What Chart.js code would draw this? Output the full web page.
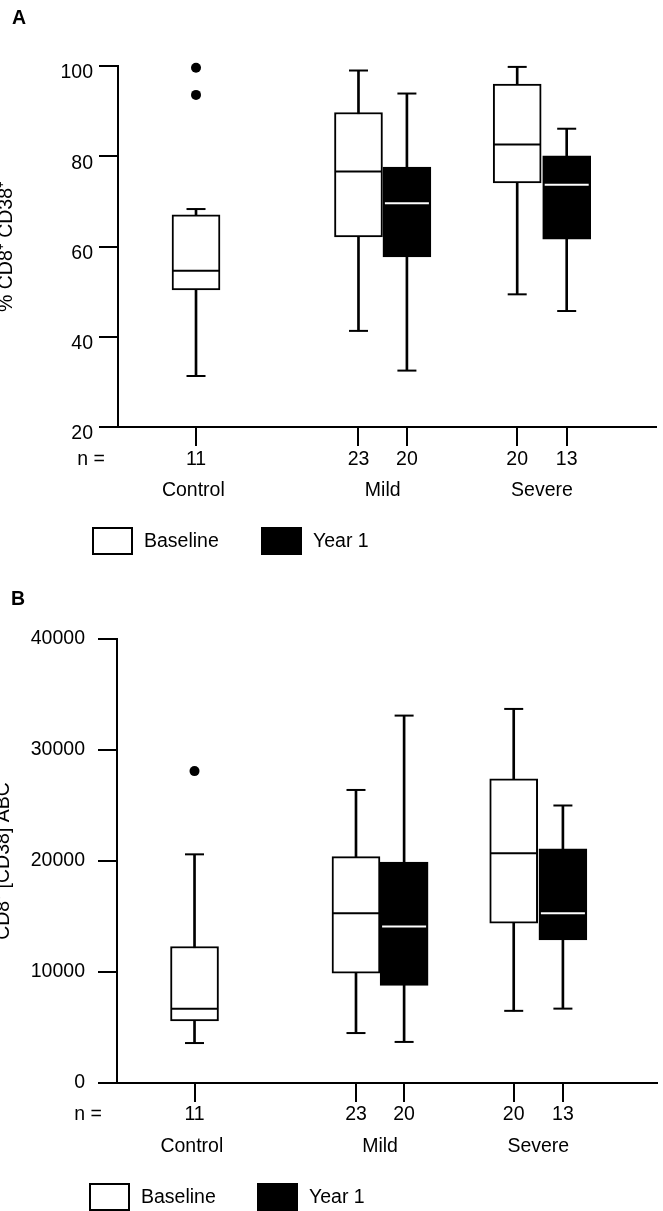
<!DOCTYPE html>
<html lang="en">
<head>
  <meta charset="UTF-8" />
  <title>CD8+ CD38+ box plots</title>
  <script src="https://cdn.jsdelivr.net/npm/chart.js"></script>
  <style>
    body { margin: 0; background: #fff; width: 663px; height: 1211px; position: relative; overflow: hidden;
           font-family: 'Liberation Sans', Arial, Helvetica, sans-serif; }
    canvas { position: absolute; left: 0; }
    .panel-label { position: absolute; z-index: 2; font-weight: bold; font-size: 19.5px; line-height: 1; }
  </style>
</head>
<body>
  <div class="panel-label" style="left:12px; top:7.5px;">A</div>
  <canvas id="chartA" width="663" height="575" style="top:0"></canvas>
  <div class="panel-label" style="left:11px; top:588.5px;">B</div>
  <canvas id="chartB" width="663" height="633" style="top:578px"></canvas>

  <script>
    // groups and series
    const groups = ['Control', 'Mild', 'Severe'];
    const seriesNames = ['Baseline', 'Year 1'];
    // which series each box belongs to (Control, Mild x2, Severe x2)
    const boxSeries = [0, 0, 1, 0, 1];

    // panel A: % CD8+ CD38+
    const aN   = [11, 23, 20, 20, 13];
    const aMin = [31.3, 41.3, 32.5, 49.4, 45.7];
    const aQ1  = [50.4, 62.1, 57.7, 74.1, 61.6];
    const aMed = [54.6, 76.6, 69.6, 82.6, 73.7];
    const aQ3  = [67.0, 89.7, 77.6, 96.0, 80.1];
    const aMax = [68.3, 99.0, 93.9, 99.8, 86.1];
    const aOutliers = [99.6, 93.6];

    // panel B: CD8+ [CD38] ABC
    const bN   = [11, 23, 20, 20, 13];
    const bMin = [3600, 4500, 3700, 6500, 6700];
    const bQ1  = [5600, 9900, 8800, 14400, 12900];
    const bMed = [6700, 15300, 14100, 20700, 15300];
    const bQ3  = [12300, 20400, 19900, 27400, 21100];
    const bMax = [20600, 26400, 33100, 33700, 25000];
    const bOutliers = [28100];

    // layout on the x axis (not data)
    const boxPos = [1.45, 4.47, 5.37, 7.42, 8.34];
    const groupPos = [1.4, 4.92, 7.88];

    const FONT = "'Liberation Sans', Arial, Helvetica, sans-serif";
    const FONT_SIZE = 19.5;
    Chart.defaults.font.family = FONT;
    Chart.defaults.font.size = FONT_SIZE;
    Chart.defaults.color = '#000';

    const seriesFill = ['#fff', '#000'];
    const medianColor = ['#000', '#fff'];

    function buildDatasets(min, q1, med, q3, max, outliers) {
      const sets = [
        {
          type: 'bar', label: 'whiskers', order: 4, grouped: false, barThickness: 2,
          data: boxPos.map((x, i) => ({ x, y: [min[i], max[i]] })),
          backgroundColor: '#000', borderWidth: 0
        },
        {
          type: 'scatter', label: 'caps', order: 4,
          data: boxPos.flatMap((x, i) => [{ x, y: min[i] }, { x, y: max[i] }]),
          pointStyle: 'line', pointRadius: 9.5, borderColor: '#000', pointBorderColor: '#000', pointBorderWidth: 2
        }
      ];
      seriesNames.forEach((name, s) => {
        const idx = boxPos.map((_, i) => i).filter(i => boxSeries[i] === s);
        sets.push({
          type: 'bar', label: name, order: 3, grouped: false, barThickness: 48,
          data: idx.map(i => ({ x: boxPos[i], y: [q1[i], q3[i]] })),
          backgroundColor: seriesFill[s], borderColor: '#000', borderWidth: 2, borderSkipped: false
        });
        sets.push({
          type: 'scatter', label: name + ' median', order: 2,
          data: idx.map(i => ({ x: boxPos[i], y: med[i] })),
          pointStyle: 'line', pointRadius: s ? 22 : 23.5,
          borderColor: medianColor[s], pointBorderColor: medianColor[s], pointBorderWidth: 2
        });
      });
      sets.push({
        type: 'scatter', label: 'outliers', order: 1,
        data: outliers.map(v => ({ x: boxPos[0], y: v })),
        pointStyle: 'circle', pointRadius: 5, pointBackgroundColor: '#000', pointBorderWidth: 0
      });
      sets.forEach(d => { d.clip = false; d.xAxisID = 'x'; d.yAxisID = 'y'; });
      return sets;
    }

    // "n =" row label and the boxed legend under the axes
    const panelExtras = {
      id: 'panelExtras',
      afterDraw(chart, args, opts) {
        const ctx = chart.ctx;
        const xs = chart.scales.x;
        ctx.save();
        ctx.font = FONT_SIZE + 'px ' + FONT;
        ctx.fillStyle = '#000';
        ctx.textAlign = 'right';
        ctx.textBaseline = 'middle';
        const nY = xs.top + xs.options.grid.tickLength + xs.options.ticks.padding + FONT_SIZE * 1.2 / 2;
        ctx.fillText('n =', opts.nRight, nY);

        const top = chart.chartArea.bottom + opts.legendGap;
        seriesNames.forEach((label, i) => {
          const bx = opts.legendX[i];
          ctx.fillStyle = seriesFill[i];
          ctx.fillRect(bx, top, 41, 28);
          ctx.strokeStyle = '#000';
          ctx.lineWidth = 2;
          ctx.strokeRect(bx + 1, top + 1, 39, 26);
          ctx.fillStyle = '#000';
          ctx.textAlign = 'left';
          ctx.fillText(label, bx + 52, top + 14.7);
        });
        ctx.restore();
      }
    };

    function makeChart(id, c) {
      new Chart(document.getElementById(id), {
        type: 'bar',
        data: { datasets: buildDatasets(c.min, c.q1, c.med, c.q3, c.max, c.outliers) },
        options: {
          responsive: false,
          animation: false,
          events: [],
          layout: { autoPadding: false, padding: c.padding },
          plugins: {
            legend: { display: false },
            tooltip: { enabled: false },
            panelExtras: { nRight: c.nRight, legendX: c.legendX, legendGap: 100 }
          },
          scales: {
            x: {
              type: 'linear', min: 0, max: c.xMax, offset: false, weight: 0,
              afterBuildTicks: s => { s.ticks = boxPos.map(v => ({ value: v })); },
              afterFit: s => { s.height = 45; },
              ticks: { autoSkip: false, maxRotation: 0, padding: c.nPad, callback: (v, i) => String(c.n[i]) },
              grid: { offset: false, drawOnChartArea: false, drawTicks: true, tickLength: 19,
                      tickWidth: 2, tickColor: '#000', color: '#000', lineWidth: 2 },
              border: { display: true, color: '#000', width: 2 }
            },
            x2: {
              type: 'linear', position: 'bottom', min: 0, max: c.xMax, offset: false, weight: 1,
              afterBuildTicks: s => { s.ticks = groupPos.map(v => ({ value: v })); },
              afterFit: s => { s.height = 35; },
              ticks: { autoSkip: false, maxRotation: 0, padding: 7.3, callback: (v, i) => groups[i] },
              grid: { display: false, drawTicks: false, offset: false },
              border: { display: false }
            },
            y: {
              min: c.yMin, max: c.yMax,
              afterFit: s => { s.width = c.yWidth; },
              ticks: { stepSize: c.yStep, padding: c.yPad, labelOffset: c.yLabelOffset, callback: v => String(v) },
              grid: { drawOnChartArea: false, drawTicks: true, tickLength: 19, tickWidth: 2,
                      tickColor: '#000', color: '#000', lineWidth: 2 },
              border: { display: true, color: '#000', width: 2 },
              title: { display: true, text: c.title, font: { size: FONT_SIZE, lineHeight: 1 },
                       padding: { top: c.titlePad, bottom: 0 } }
            }
          }
        },
        plugins: [panelExtras]
      });
    }

    makeChart('chartA', {
      n: aN, min: aMin, q1: aQ1, med: aMed, q3: aQ3, max: aMax, outliers: aOutliers,
      title: '% CD8\u207A CD38\u207A',
      yMin: 20, yMax: 100, yStep: 20, yPad: 6, yLabelOffset: 7, yWidth: 118,
      xMax: 10, nPad: 2, titlePad: -3.25,
      padding: { top: 66, right: 7, bottom: 68, left: 0 },
      nRight: 105, legendX: [92, 261]
    });

    makeChart('chartB', {
      n: bN, min: bMin, q1: bQ1, med: bMed, q3: bQ3, max: bMax, outliers: bOutliers,
      title: 'CD8\u207A [CD38] ABC',
      yMin: 0, yMax: 40000, yStep: 10000, yPad: 13, yLabelOffset: 0, yWidth: 117,
      xMax: 10.1, nPad: 1, titlePad: -6.5,
      padding: { top: 61, right: 6, bottom: 48, left: 0 },
      nRight: 102, legendX: [89, 257]
    });
  </script>
</body>
</html>
